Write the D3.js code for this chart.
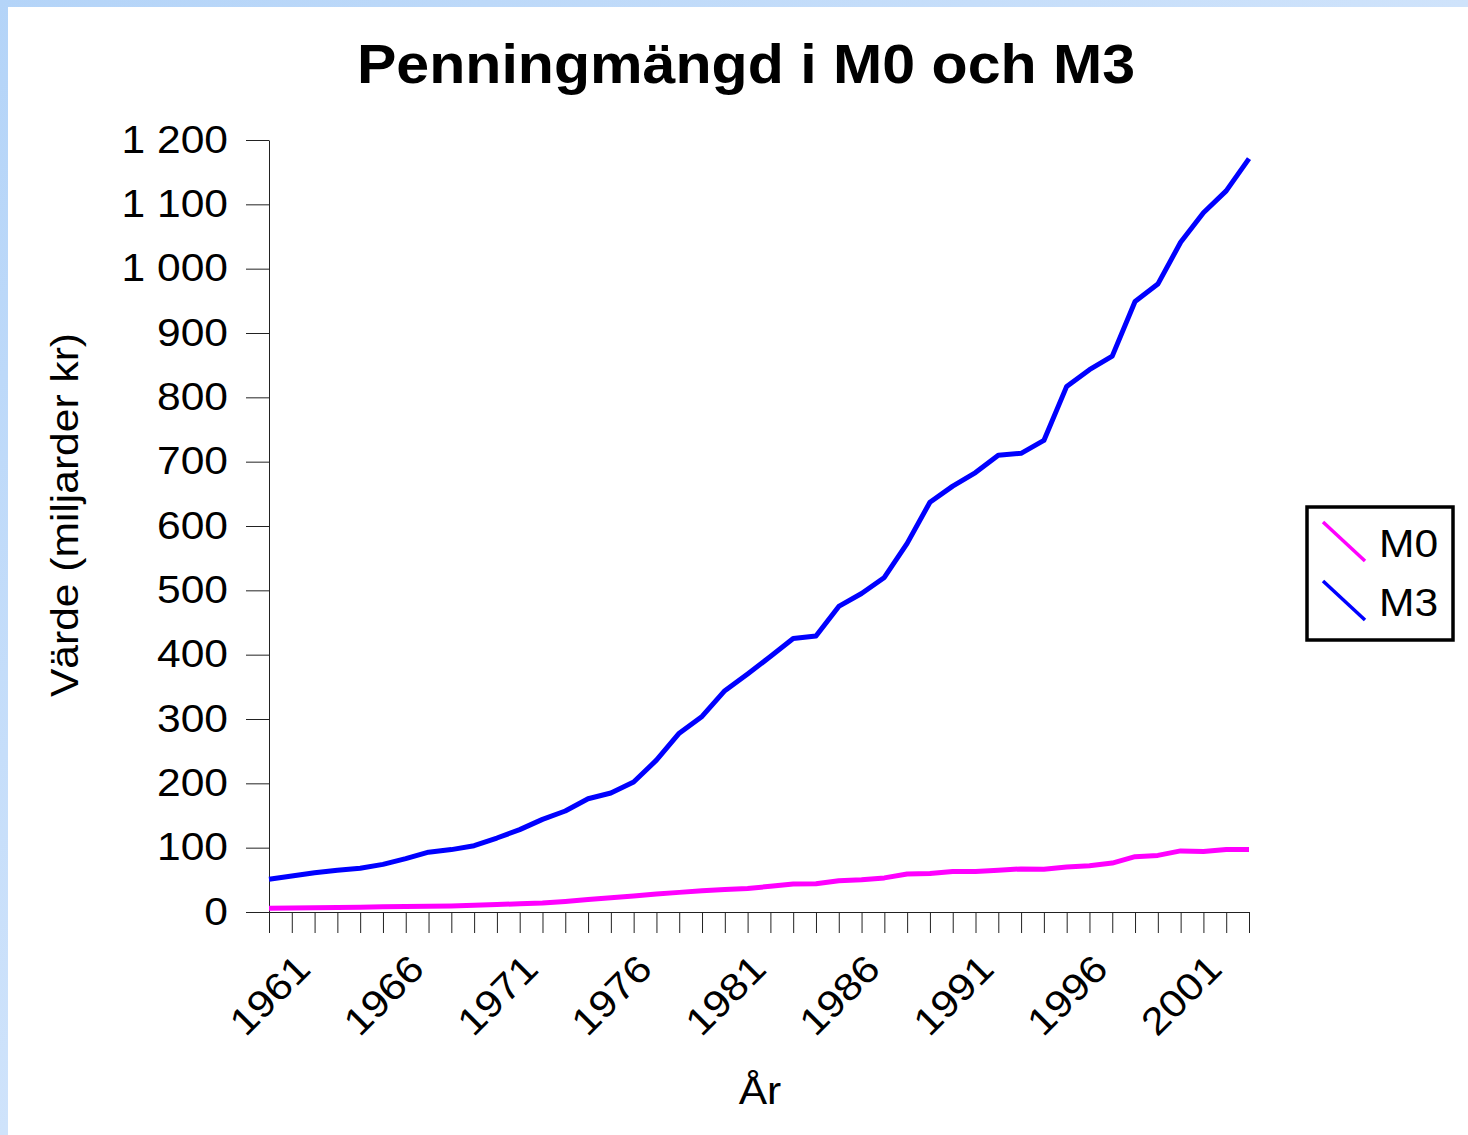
<!DOCTYPE html>
<html>
<head>
<meta charset="utf-8">
<script src="https://cdn.jsdelivr.net/npm/d3@7"></script>
<style>
  body { margin: 0; }
  svg { display: block; font-family: "Liberation Sans", Arial, sans-serif; }
</style>
</head>
<body>
<svg width="1468" height="1135"></svg>
<script>
var years = [1961, 1962, 1963, 1964, 1965, 1966, 1967, 1968, 1969, 1970,
  1971, 1972, 1973, 1974, 1975, 1976, 1977, 1978, 1979, 1980,
  1981, 1982, 1983, 1984, 1985, 1986, 1987, 1988, 1989, 1990,
  1991, 1992, 1993, 1994, 1995, 1996, 1997, 1998, 1999, 2000,
  2001, 2002, 2003, 2004];

var m0 = [5.7, 6.2, 6.7, 7.1, 7.5, 8, 8.5, 9, 9.5, 10.3,
  11.5, 13, 14, 16.5, 19.5, 22, 25, 28, 30.5, 33,
  35, 36.5, 40, 43.5, 44, 48.5, 50, 53, 59, 60,
  63, 63, 65, 67, 66.5, 70, 72, 76, 86, 88,
  95, 94, 97, 97];

var m3 = [51, 56, 61, 65, 68, 74, 83, 93, 97, 103,
  115, 128, 144, 157, 176, 185, 202, 236, 278, 304,
  344, 370, 397, 425, 429, 475, 495, 520, 573, 637,
  662, 683, 710, 713, 733, 817, 843, 864, 949, 976,
  1041, 1087, 1121, 1171];

var labelYears = [1961, 1966, 1971, 1976, 1981, 1986, 1991, 1996, 2001];
var yTicks = [0, 100, 200, 300, 400, 500, 600, 700, 800, 900, 1000, 1100, 1200];

var seriesNames = ["M0", "M3"];
var seriesColors = ["#ff00ff", "#0000ff"];

var svg = d3.select("svg"),
    width = +svg.attr("width"),
    height = +svg.attr("height");

var sx = 1.12; // the original font is drawn a bit wider

// light blue frame on top and left
var defs = svg.append("defs");
var grad = defs.append("linearGradient").attr("id", "frame")
    .attr("x1", 0).attr("y1", 0).attr("x2", 1).attr("y2", 1);
grad.append("stop").attr("offset", "0%").attr("stop-color", "#b4d4f8");
grad.append("stop").attr("offset", "50%").attr("stop-color", "#cfe3fb");
grad.append("stop").attr("offset", "100%").attr("stop-color", "#b8d6f8");

svg.append("rect").attr("width", width).attr("height", height).attr("fill", "url(#frame)");
svg.append("rect").attr("x", 8).attr("y", 7)
    .attr("width", width - 8).attr("height", height - 7).attr("fill", "#fff");

var x = d3.scalePoint()
    .domain(years)
    .range([269, 1249]);

var y = d3.scaleLinear()
    .domain([0, 1200])
    .range([912, 140]);

var locale = d3.formatLocale({decimal: ",", thousands: " ", grouping: [3], currency: ["", " kr"]});
var fmt = locale.format(",d");

// title
svg.append("text")
    .attr("transform", "translate(746,83) scale(1.075,1)")
    .attr("text-anchor", "middle")
    .attr("font-size", 55)
    .attr("font-weight", "bold")
    .text("Penningmängd i M0 och M3");

// y axis
var yAxis = svg.append("g")
    .attr("transform", "translate(269,0)")
    .call(d3.axisLeft(y)
      .tickValues(yTicks)
      .tickSize(23)
      .tickSizeOuter(0)
      .tickPadding(18)
      .tickFormat(fmt));

yAxis.selectAll("text")
    .attr("x", 0)
    .attr("transform", "translate(-41,0) scale(" + sx + ",1)")
    .attr("font-size", 38)
    .attr("font-family", "Liberation Sans, Arial, sans-serif")
    .attr("fill", "#000");
yAxis.selectAll("line, path").attr("stroke", "#222");

// x axis
var xAxis = svg.append("g")
    .attr("transform", "translate(0,912)")
    .call(d3.axisBottom(x)
      .tickSize(21)
      .tickSizeOuter(0)
      .tickFormat(function(d) { return labelYears.indexOf(d) >= 0 ? d : ""; }));

xAxis.selectAll("text")
    .attr("y", null)
    .attr("dy", "0.35em")
    .attr("text-anchor", "middle")
    .attr("transform", "translate(0,83) rotate(-45) scale(" + sx + ",1)")
    .attr("font-size", 38)
    .attr("font-family", "Liberation Sans, Arial, sans-serif")
    .attr("fill", "#000");
xAxis.selectAll("line, path").attr("stroke", "#222");

// axis titles
svg.append("text")
    .attr("transform", "translate(760,1104) scale(" + sx + ",1)")
    .attr("text-anchor", "middle")
    .attr("font-size", 38)
    .text("År");

svg.append("text")
    .attr("transform", "translate(78,515) rotate(-90) scale(" + sx + ",1)")
    .attr("text-anchor", "middle")
    .attr("font-size", 38)
    .text("Värde (miljarder kr)");

// lines
var line = d3.line()
    .x(function(d, i) { return x(years[i]); })
    .y(function(d) { return y(d); });

[m0, m3].forEach(function(values, k) {
  svg.append("path")
    .datum(values)
    .attr("fill", "none")
    .attr("stroke", seriesColors[k])
    .attr("stroke-width", 5)
    .attr("stroke-linejoin", "round")
    .attr("d", line);
});

// legend
var legend = svg.append("g")
    .attr("transform", "translate(1307,507)");

legend.append("rect")
    .attr("width", 146)
    .attr("height", 133)
    .attr("fill", "#fff")
    .attr("stroke", "#000")
    .attr("stroke-width", 3.5);

var item = legend.selectAll("g.item")
    .data(seriesNames)
    .enter().append("g")
    .attr("class", "item")
    .attr("transform", function(d, i) { return "translate(0," + (i * 59) + ")"; });

item.append("line")
    .attr("x1", 16).attr("y1", 15)
    .attr("x2", 58).attr("y2", 54)
    .attr("stroke", function(d, i) { return seriesColors[i]; })
    .attr("stroke-width", 3.5);

item.append("text")
    .attr("transform", "translate(72,50) scale(" + sx + ",1)")
    .attr("font-size", 38)
    .text(function(d) { return d; });
</script>
</body>
</html>
